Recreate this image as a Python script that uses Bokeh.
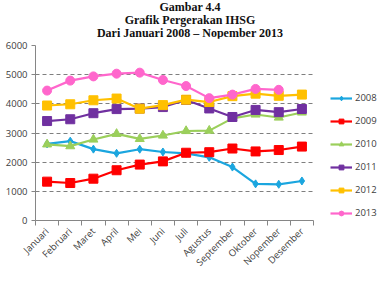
from math import pi

from bokeh.embed import file_html
from bokeh.layouts import column
from bokeh.models import Div, FixedTicker, Legend, LegendItem, Range1d
from bokeh.plotting import figure
from bokeh.resources import INLINE

# Monthly IHSG closing index, January 2008 - November 2013
months = ["Januari", "Februari", "Maret", "April", "Mei", "Juni", "Juli",
          "Agustus", "September", "Oktober", "Nopember", "Desember"]
years = ["2008", "2009", "2010", "2011", "2012", "2013"]

ihsg_2008 = [2627, 2721, 2447, 2304, 2444, 2349, 2304, 2165, 1832, 1256, 1241, 1355]
ihsg_2009 = [1332, 1285, 1434, 1723, 1917, 2027, 2323, 2342, 2468, 2368, 2416, 2534]
ihsg_2010 = [2611, 2549, 2777, 2971, 2797, 2914, 3069, 3082, 3501, 3635, 3531, 3704]
ihsg_2011 = [3410, 3471, 3679, 3820, 3837, 3889, 4131, 3842, 3549, 3791, 3715, 3822]
ihsg_2012 = [3942, 3985, 4122, 4181, 3833, 3956, 4142, 4061, 4263, 4350, 4276, 4317]
ihsg_2013 = [4454, 4796, 4941, 5034, 5069, 4819, 4610, 4195, 4316, 4511, 4480]

y_ticks = [0, 1000, 2000, 3000, 4000, 5000, 6000]

headings = ["Gambar 4.4", "Grafik Pergerakan IHSG", "Dari Januari 2008 \u2013 Nopember 2013"]

series = [ihsg_2008, ihsg_2009, ihsg_2010, ihsg_2011, ihsg_2012, ihsg_2013]
colors = ["#1ba6df", "#ff0000", "#9bcf5b", "#7030a0", "#ffc000", "#ff66cc"]
markers = ["diamond", "square", "triangle", "square", "square", "circle"]
sizes = [8, 9, 9, 9, 9, 9]

FONT = "Open Sans"
TXT = "#404040"

# Heading block, centred over the whole page
heading = Div(
    text=('<div style="position:relative; top:1px; width:380px; text-align:center; '
          'font-family:\'Liberation Serif\'; font-weight:bold; font-size:12px; '
          'line-height:13px; color:#111111;">' + "<br>".join(headings) + "</div>"),
    width=384, height=38, margin=0)

n = len(months)
# the frame runs on to the right edge so the legend can sit beside the months
x_end = n * 349 / 278

p = figure(width=384, height=247, output_backend="svg", toolbar_location=None,
           x_range=Range1d(0, x_end), y_range=Range1d(0, 6000),
           min_border_left=35, min_border_right=0, min_border_top=7,
           min_border_bottom=65, margin=0)
p.outline_line_color = None
p.background_fill_color = "white"
p.border_fill_color = "white"

centers = [i + 0.5 for i in range(n)]

# x axis: labels at month centres, tick marks at month boundaries
p.xaxis.bounds = (0, n)
p.xaxis.ticker = FixedTicker(ticks=centers, minor_ticks=list(range(n + 1)))
p.xaxis.major_label_overrides = {c: m for c, m in zip(centers, months)}
p.xaxis.major_label_orientation = pi / 4
p.xaxis.major_tick_line_color = None
p.xaxis.minor_tick_line_color = "#868686"
p.xaxis.minor_tick_in = 0
p.xaxis.minor_tick_out = 5
p.xaxis.axis_line_color = "#868686"
p.xaxis.major_label_text_font = FONT
p.xaxis.major_label_text_font_size = "9.5px"
p.xaxis.major_label_text_color = TXT
p.xaxis.major_label_standoff = 3

p.yaxis.ticker = FixedTicker(ticks=y_ticks)
p.yaxis.minor_tick_line_color = None
p.yaxis.major_tick_line_color = "#868686"
p.yaxis.major_tick_in = 0
p.yaxis.major_tick_out = 4
p.yaxis.axis_line_color = "#868686"
p.yaxis.major_label_text_font = FONT
p.yaxis.major_label_text_font_size = "9.5px"
p.yaxis.major_label_text_color = TXT
p.yaxis.major_label_standoff = 4

p.xgrid.grid_line_color = None
p.ygrid.grid_line_color = "#7f7f7f"
p.ygrid.grid_line_dash = "4 3"
p.ygrid.grid_line_width = 1
p.ygrid.cross_bounds = (0, n)

items = []
for year, vals, col, mk, sz in zip(years, series, colors, markers, sizes):
    xs = centers[:len(vals)]
    r1 = p.line(xs, vals, line_color=col, line_width=2.2)
    r2 = p.scatter(xs, vals, marker=mk, size=sz, fill_color=col, line_color=col)
    items.append(LegendItem(label=year, renderers=[r1, r2]))

legend = Legend(items=items, location=(295, 1), orientation="vertical",
                label_text_font=FONT, label_text_font_size="9.5px",
                label_text_color=TXT, glyph_width=22, glyph_height=12,
                label_height=12, spacing=10, padding=0, margin=0,
                label_standoff=3, border_line_color=None,
                background_fill_alpha=0)
p.add_layout(legend, "center")

page = column(heading, p, width=384, height=285, spacing=0, margin=0)

open("out.html", "w").write(file_html(page, INLINE))
